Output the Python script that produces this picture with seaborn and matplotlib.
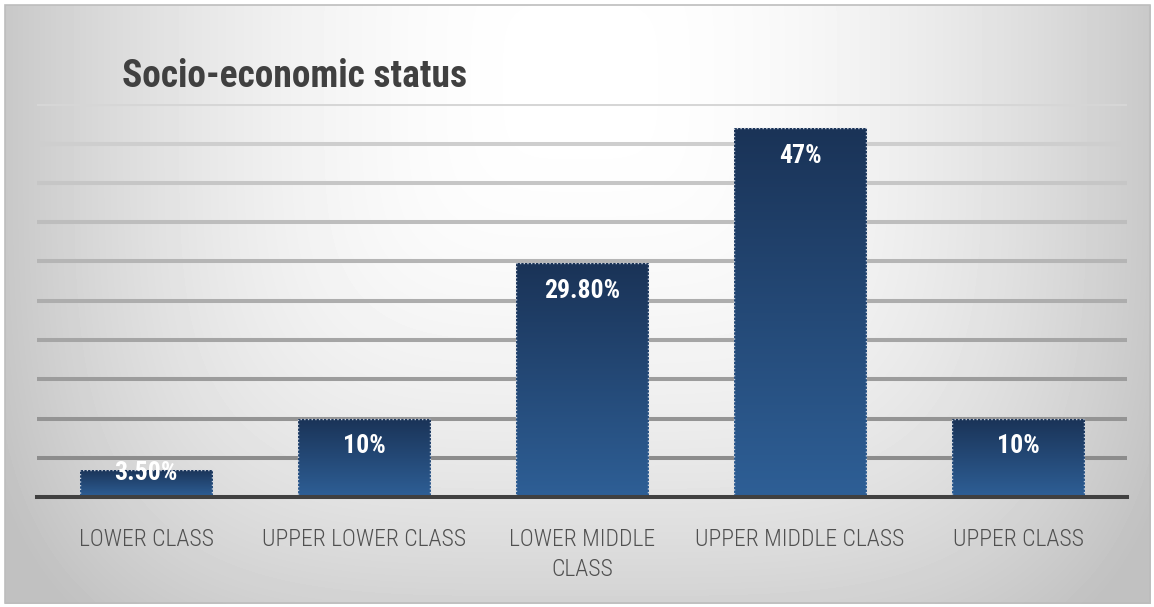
import numpy as np
import seaborn as sns
import matplotlib.pyplot as plt
from matplotlib.colors import LinearSegmentedColormap
from matplotlib.patches import Rectangle

categories = ["LOWER CLASS", "UPPER LOWER CLASS", "LOWER MIDDLE\nCLASS",
              "UPPER MIDDLE CLASS", "UPPER CLASS"]
shares = [3.5, 10, 29.8, 47, 10]
value_labels = ["3.50%", "10%", "29.80%", "47%", "10%"]
title = "Socio-economic status"

sns.set_theme(style="white")
plt.rcParams["font.family"] = ["Roboto Condensed", "Liberation Sans Narrow",
                               "Open Sans Condensed", "Roboto", "DejaVu Sans"]

W, H = 1154, 607
fig = plt.figure(figsize=(W / 100, H / 100), dpi=100)
fig.patch.set_facecolor("white")

# gray "from center" background gradient inside a thin frame
bg = fig.add_axes([0, 0, 1, 1], zorder=-10)
yy, xx = np.mgrid[0:H, 0:W]
dx = (xx - 580) / 580
dy = (yy - 80) / 590
d = (np.abs(dx) ** 4 + np.abs(dy) ** 4) ** 0.25
shade = 1 - 0.22 * np.clip(d, 0, 1.05) ** 2
fx0, fy0, fx1, fy1 = 5, 5, 1150, 603
mask = (xx < fx0) | (xx > fx1) | (yy < fy0) | (yy > fy1)
shade[mask] = 1.0
bg.imshow(shade, cmap="gray", vmin=0, vmax=1, extent=[0, W, H, 0], aspect="auto")
bg.add_patch(Rectangle((fx0, fy0), fx1 - fx0, fy1 - fy0, fill=False,
                       edgecolor="#bdbdbd", lw=1.2))
bg.set_xlim(0, W)
bg.set_ylim(H, 0)
bg.axis("off")

# plot area
ax = fig.add_axes([37 / W, 1 - 497 / H, (1127 - 37) / W, (497 - 104.5) / H])
ax.patch.set_alpha(0)

sns.barplot(x=categories, y=shares, width=0.606, color="#234a7a", ax=ax,
            zorder=3)

ax.set_ylim(0, 50)
xlim = ax.get_xlim()

# gridlines, darker near the bottom
for t in np.arange(5, 51, 5):
    g = 0x8c + (t - 5) / 45 * (0xd6 - 0x8c)
    ax.axhline(t, color=(g / 255, g / 255, g / 255), lw=2.9, zorder=1)

# vertical gradient fill on each bar
bar_cmap = LinearSegmentedColormap.from_list("bars", ["#2e5f96", "#1a3357"])
grad = np.linspace(0, 1, 256).reshape(-1, 1)
for p in ax.patches:
    x0, w, h = p.get_x(), p.get_width(), p.get_height()
    im = ax.imshow(grad, cmap=bar_cmap, origin="lower", aspect="auto",
                   extent=[x0, x0 + w, 0, h], zorder=3)
    im.set_clip_path(p)
    p.set_facecolor("none")
    p.set_edgecolor("#c9d1de")
    p.set_linestyle(":")
    p.set_linewidth(1.0)
    p.set_zorder(4)

ax.set_xlim(xlim)
ax.set_ylim(0, 50)

# value labels inside the bar tops
for p, lab in zip(ax.patches, value_labels):
    cx = p.get_x() + p.get_width() / 2
    off = -7.5 if p.get_height() < 5 else -25
    ax.annotate(lab, (cx, p.get_height()), xytext=(0, off),
                textcoords="offset points", ha="center", va="baseline",
                color="white", fontsize=18.5, fontweight="bold", zorder=5)

for side in ["top", "right", "left"]:
    ax.spines[side].set_visible(False)
ax.spines["bottom"].set_color("#404040")
ax.spines["bottom"].set_linewidth(2.9)
ax.spines["bottom"].set_zorder(6)
ax.set_yticks([])
ax.set_xlabel("")
ax.set_ylabel("")
ax.tick_params(axis="x", length=0, pad=22, labelsize=17, labelcolor="#505050")
for lbl in ax.get_xticklabels():
    lbl.set_fontweight("light")
    lbl.set_linespacing(1.4)

fig.text(122 / W, 1 - 87 / H, title, ha="left", va="baseline",
         fontsize=27, fontweight="bold", color="#404040")

fig.savefig("out.png", dpi=100)
